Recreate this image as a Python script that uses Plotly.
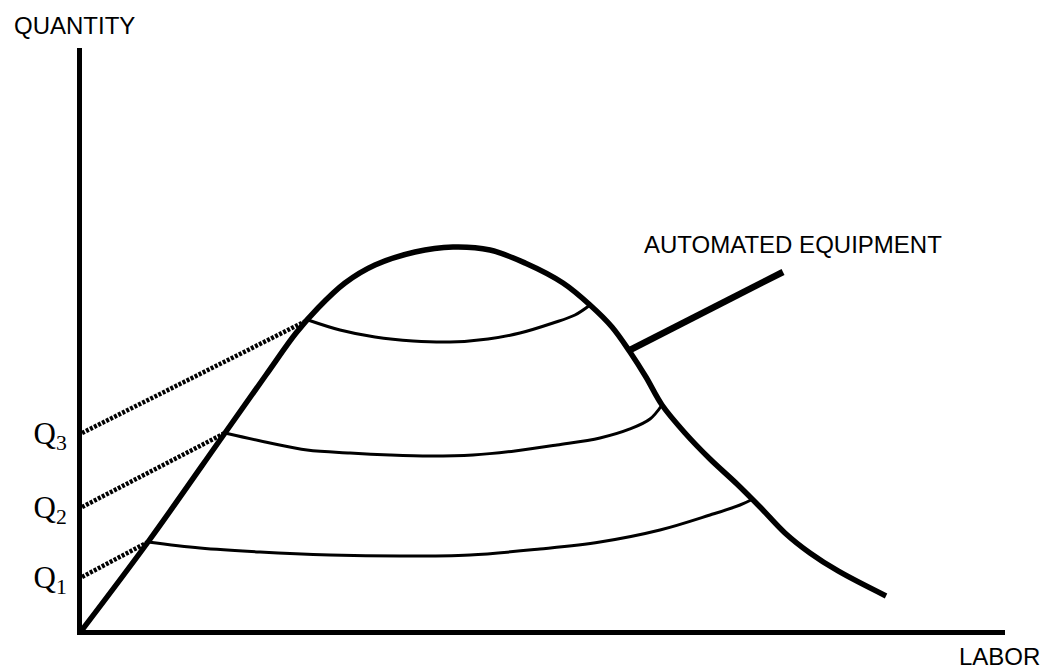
import plotly.graph_objects as go

# ---- data (chart units: labor 0-100, quantity 0-100) ----
curve_labor = [0.0, 7.15, 15.49, 19.93, 23.19, 25.57, 28.49, 31.74, 36.08, 40.19,
               44.20, 48.00, 52.11, 55.04, 57.42, 59.37, 61.10, 62.84, 65.33, 68.04,
               70.96, 73.46, 76.16, 78.87, 81.91, 87.11]
curve_qty = [0.0, 15.12, 33.85, 43.81, 51.03, 55.33, 59.62, 62.71, 64.95, 65.81,
             65.29, 63.06, 59.62, 55.84, 52.06, 47.77, 43.47, 38.66, 33.85, 29.38,
             25.09, 21.13, 16.67, 13.23, 10.14, 5.84]

arc3_labor = [24.49, 27.95, 31.74, 35.86, 39.87, 43.99, 47.45, 51.03, 53.41, 55.04]
arc3_qty = [53.27, 51.55, 50.34, 49.66, 49.48, 50.00, 51.03, 52.75, 54.12, 55.84]

arc2_labor = [15.49, 20.37, 24.38, 29.04, 33.37, 37.70, 42.36, 46.91, 51.46, 56.12,
              59.37, 61.54, 62.84]
arc2_qty = [33.85, 32.13, 30.93, 30.41, 30.07, 29.90, 30.07, 30.76, 31.79, 32.99,
            34.54, 36.25, 38.66]

arc1_labor = [7.15, 12.78, 19.28, 26.87, 34.45, 42.04, 49.62, 56.12, 62.62, 68.04,
              71.29, 72.70]
arc1_qty = [15.12, 14.09, 13.40, 12.89, 12.71, 12.89, 13.92, 15.12, 17.18, 19.76,
            21.48, 22.51]

q_levels = [9.11, 21.13, 33.85]
q_labels = ["Q<sub>1</sub>", "Q<sub>2</sub>", "Q<sub>3</sub>"]
q_end_labor = [7.15, 15.49, 24.49]
q_end_qty = [15.12, 33.85, 53.27]

leader_labor = [59.37, 75.95]
leader_qty = [48.11, 61.51]

fig = go.Figure()

# dotted projections from Q levels
for q, ex, ey in zip(q_levels, q_end_labor, q_end_qty):
    fig.add_trace(go.Scatter(x=[0, ex], y=[q, ey], mode="lines",
                             line=dict(color="black", width=4.5, dash="3px,1.5px"),
                             hoverinfo="skip"))

# inner arcs
for ax_, ay_ in [(arc1_labor, arc1_qty), (arc2_labor, arc2_qty), (arc3_labor, arc3_qty)]:
    fig.add_trace(go.Scatter(x=ax_, y=ay_, mode="lines",
                             line=dict(color="black", width=3, shape="spline", smoothing=1),
                             hoverinfo="skip"))

# main curve
fig.add_trace(go.Scatter(x=curve_labor, y=curve_qty, mode="lines",
                         line=dict(color="black", width=5.5, shape="spline", smoothing=1),
                         hoverinfo="skip"))

# leader line
fig.add_trace(go.Scatter(x=leader_labor, y=leader_qty, mode="lines",
                         line=dict(color="black", width=6.5),
                         hoverinfo="skip"))

txt_font = dict(family="Liberation Sans, Arial", size=24, color="black")
fig.add_annotation(x=60.67, y=66.3, xref="x", yref="y", text="AUTOMATED EQUIPMENT",
                   showarrow=False, xanchor="left", yanchor="middle", font=txt_font)
fig.add_annotation(x=-0.076, y=1.038, xref="paper", yref="paper", text="QUANTITY",
                   showarrow=False, xanchor="left", yanchor="middle", font=txt_font)
fig.add_annotation(x=0.948, y=-0.046, xref="paper", yref="paper", text="LABOR",
                   showarrow=False, xanchor="left", yanchor="middle", font=txt_font)

fig.update_layout(
    width=1040, height=662,
    margin=dict(l=74, r=43, t=40, b=40),
    paper_bgcolor="white", plot_bgcolor="white",
    showlegend=False,
    xaxis=dict(range=[0, 100], showgrid=False, zeroline=False, showticklabels=False,
               showline=True, linecolor="black", linewidth=5, ticks=""),
    yaxis=dict(range=[0, 100], showgrid=False, zeroline=False,
               tickvals=q_levels, ticktext=q_labels, ticklabelstandoff=4,
               tickfont=dict(family="Liberation Serif, Times New Roman", size=31, color="black"),
               showline=True, linecolor="black", linewidth=5, ticks=""),
)

fig.write_html("out.html")
